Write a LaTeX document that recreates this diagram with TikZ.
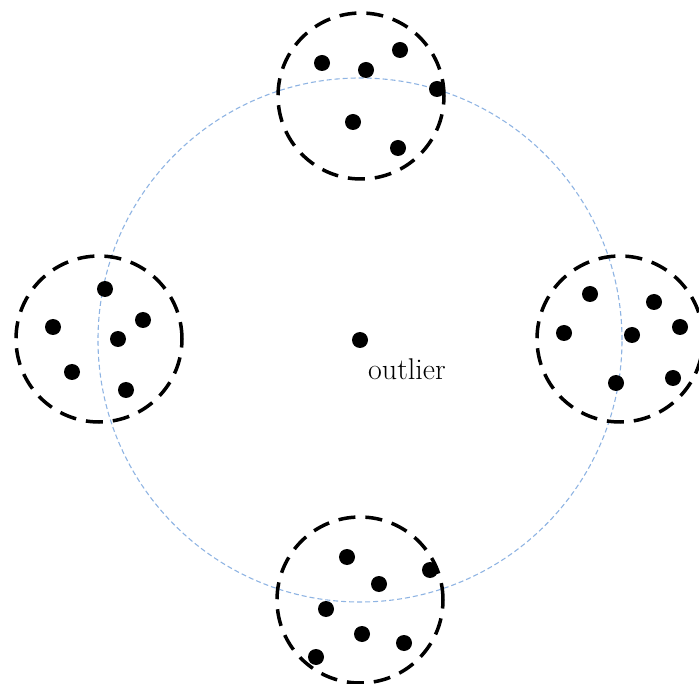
\documentclass[tikz,border=0pt]{standalone}
\begin{document}
\begin{tikzpicture}[x=1pt,y=-1pt,
  dot/.style={circle,fill=black,inner sep=0pt,minimum size=16pt},
  cluster/.style={circle,draw=black,line width=3.5pt,dash pattern=on 17pt off 10pt,inner sep=0pt,minimum size=166pt},
  ring/.style={circle,draw={rgb,255:red,143;green,180;blue,227},line width=1.1pt,dash pattern=on 5pt off 3pt,inner sep=0pt,minimum size=524pt}]
\useasboundingbox (0,0) rectangle (699,684);
\node[ring] (big) at (360,340) {};
\node[cluster] (ctop) at (361,96) {};
\node[cluster] (cleft) at (99,339) {};
\node[cluster] (cright) at (620,339) {};
\node[cluster] (cbot) at (360,600) {};
% top
\node[dot] (t1) at (322,63) {};
\node[dot] (t2) at (366,70) {};
\node[dot] (t3) at (400,50) {};
\node[dot] (t4) at (437,89) {};
\node[dot] (t5) at (353,122) {};
\node[dot] (t6) at (398,148) {};
% left
\node[dot] (l1) at (105,289) {};
\node[dot] (l2) at (53,327) {};
\node[dot] (l3) at (143,320) {};
\node[dot] (l4) at (118,339) {};
\node[dot] (l5) at (72,372) {};
\node[dot] (l6) at (126,390) {};
% right
\node[dot] (r1) at (590,294) {};
\node[dot] (r2) at (654,302) {};
\node[dot] (r3) at (564,333) {};
\node[dot] (r4) at (632,335) {};
\node[dot] (r5) at (680,327) {};
\node[dot] (r6) at (616,383) {};
\node[dot] (r7) at (673,378) {};
% bottom
\node[dot] (b1) at (347,557) {};
\node[dot] (b2) at (379,584) {};
\node[dot] (b3) at (430,570) {};
\node[dot] (b4) at (326,609) {};
\node[dot] (b5) at (362,634) {};
\node[dot] (b6) at (404,643) {};
\node[dot] (b7) at (316,657) {};
% outlier
\node[dot] (o) at (360,340) {};
\node[anchor=base west,inner sep=0pt,font=\fontsize{30}{36}\selectfont] (olab) at (368,380) {outlier};
\end{tikzpicture}
\end{document}
